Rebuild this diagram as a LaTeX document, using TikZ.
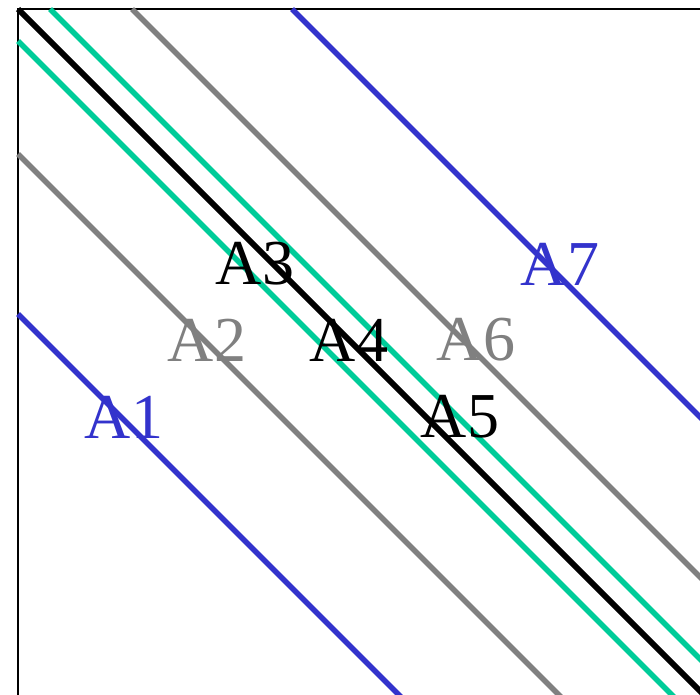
\documentclass[tikz,border=0pt]{standalone}
\usepackage{fontspec}
\setmainfont{Liberation Serif}
\usepackage{tikz}
\definecolor{bandblue}{HTML}{3333CC}
\definecolor{bandgreen}{HTML}{00CC99}
\definecolor{bandgray}{HTML}{808080}

\begin{document}
\begin{tikzpicture}[x=1pt, y=-1pt,
    frameline/.style={draw=black, line width=1.6pt},
    diagline/.style={line width=5.5pt},
    bandlabel/.style={
        font=\fontsize{64}{64}\selectfont,
        inner sep=0pt,
        anchor=center
    }
]
\useasboundingbox (0,0) rectangle (700,694);
\clip (0,0) rectangle (700,694);

% Frame (only left and top edges fall inside the view)
\draw[frameline] (18,9) rectangle (760,760);

% Outer band
\draw[diagline, bandblue] (292,9) -- (1000,717);
\draw[diagline, bandblue] (18,314) -- (420,716);

% Middle band
\draw[diagline, bandgray] (132,9) -- (840,717);
\draw[diagline, bandgray] (18,154) -- (580,716);

% Inner band
\draw[diagline, bandgreen] (50,9) -- (760,719);
\draw[diagline, bandgreen] (18,41) -- (700,723);

% Main diagonal
\draw[line width=6pt, black] (18,9) -- (730,721);

% Region labels
\node[bandlabel, text=bandblue] (A1) at (124,417) {A1};
\node[bandlabel, text=bandgray] (A2) at (207,340) {A2};
\node[bandlabel, text=black] (A3) at (255,264) {A3};
\node[bandlabel, text=black] (A4) at (349,340) {A4};
\node[bandlabel, text=black] (A5) at (460,417) {A5};
\node[bandlabel, text=bandgray] (A6) at (476,340) {A6};
\node[bandlabel, text=bandblue] (A7) at (560,264) {A7};

\end{tikzpicture}
\end{document}
